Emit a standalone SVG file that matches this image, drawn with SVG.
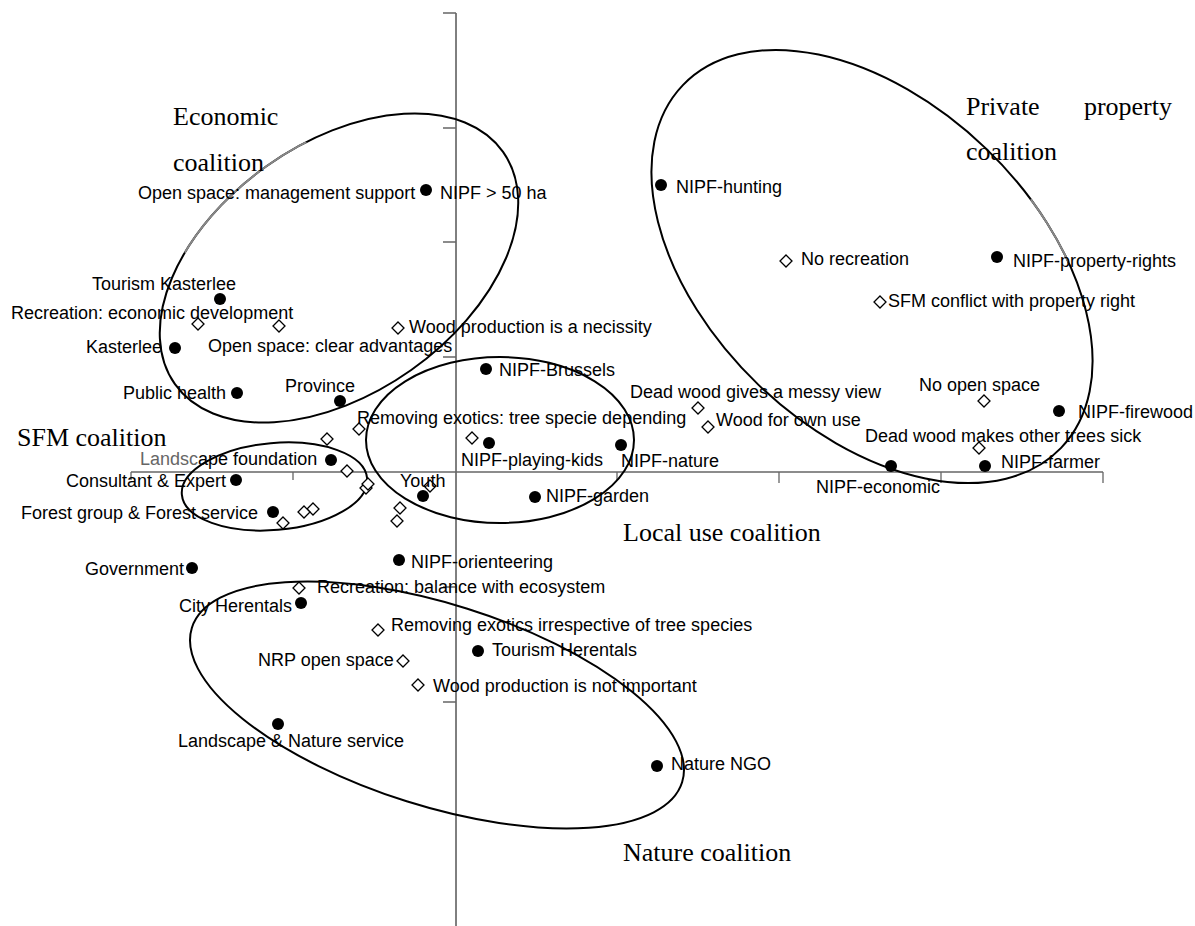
<svg xmlns="http://www.w3.org/2000/svg" xmlns:xlink="http://www.w3.org/1999/xlink" width="1195" height="926" viewBox="0 0 1195 926">
<style>
.lbl{font-family:"Liberation Sans",Arial,sans-serif;font-size:18px;fill:#000}
.ttl{font-family:"Liberation Serif","Times New Roman",serif;font-size:26px;fill:#000}
.ell{fill:none;stroke:#000;stroke-width:2}
.gry{fill:none;stroke:#888;stroke-width:2}
.dia{fill:#fff;stroke:#000;stroke-width:1.3}
.dot{fill:#000}
.ax{stroke:#000;stroke-width:1;fill:none}
.axh{stroke:#666;stroke-width:1.3;fill:none}
</style>
<defs>
<circle id="dot" r="6" class="dot"/>
<path id="dia" class="dia" d="M0,-6 L6,0 L0,6 L-6,0Z"/>
<clipPath id="cEco"><rect x="222" y="100" width="163" height="110"/></clipPath>
<clipPath id="cPriv"><rect x="940" y="105" width="72" height="78"/></clipPath>
<clipPath id="cNat"><rect x="598" y="820" width="22" height="16"/></clipPath>
</defs>
<rect width="1195" height="926" fill="#fff"/>

<g id="axes">
<line class="ax" x1="456" y1="13" x2="456" y2="926"/>
<line class="axh" x1="131" y1="472" x2="1103" y2="472"/>
<path class="axh" d="M443,13H456M443,128H456M443,242H456M443,357H456M443,587H456M443,702H456"/>
<path class="axh" d="M131,472V480M293,472V480M617,472V480M779,472V483M941,472V483M1103,472V483"/>
</g>

<g id="coalitions">
<g id="economic-coalition">
<ellipse class="ell" cx="339" cy="268" rx="201" ry="125" transform="rotate(-35.3 339 268)"/>
<ellipse class="gry" clip-path="url(#cEco)" cx="339" cy="268" rx="201" ry="125" transform="rotate(-35.3 339 268)"/>
<text class="ttl" x="173" y="125">Economic</text>
<text class="ttl" x="173" y="171">coalition</text>
</g>
<g id="private-property-coalition">
<ellipse class="ell" cx="872" cy="266.5" rx="262" ry="164" transform="rotate(43.8 872 266.5)"/>
<ellipse class="gry" clip-path="url(#cPriv)" cx="872" cy="266.5" rx="262" ry="164" transform="rotate(43.8 872 266.5)"/>
<text class="ttl" x="966" y="115">Private</text>
<text class="ttl" x="1172" y="115" text-anchor="end">property</text>
<text class="ttl" x="966" y="160">coalition</text>
</g>
<g id="local-use-coalition">
<ellipse class="ell" cx="500" cy="440" rx="134" ry="83"/>
<text class="ttl" x="623" y="541">Local use coalition</text>
</g>
<g id="sfm-coalition">
<ellipse class="ell" cx="274.5" cy="486.5" rx="93" ry="43.5" transform="rotate(-5 274.5 486.5)"/>
<text class="ttl" x="17" y="446">SFM coalition</text>
</g>
<g id="nature-coalition">
<ellipse class="ell" cx="437" cy="705" rx="257" ry="101" transform="rotate(17.5 437 705)"/>
<ellipse class="gry" clip-path="url(#cNat)" cx="437" cy="705" rx="257" ry="101" transform="rotate(17.5 437 705)"/>
<text class="ttl" x="623" y="861">Nature coalition</text>
</g>
</g>

<g id="connectors"></g>

<g id="statements">
<g id="s-open-space-management"><text class="lbl" x="138" y="199">Open space: management support</text></g>
<g id="s-recreation-economic"><use href="#dia" x="198" y="324"/><text class="lbl" x="11" y="319">Recreation: economic development</text></g>
<g id="s-open-space-clear"><use href="#dia" x="279" y="326"/><text class="lbl" x="208" y="352">Open space: clear advantages</text></g>
<g id="s-wood-necessity"><use href="#dia" x="398" y="328"/><text class="lbl" x="409" y="333">Wood production is a necissity</text></g>
<g id="s-removing-exotics-depending"><use href="#dia" x="472" y="438"/><text class="lbl" x="357" y="424">Removing exotics: tree specie depending</text></g>
<g id="s-unlabeled">
<use href="#dia" x="327" y="439"/>
<use href="#dia" x="359" y="429"/>
<use href="#dia" x="347" y="471"/>
<use href="#dia" x="366" y="488"/>
<use href="#dia" x="368" y="484"/>
<use href="#dia" x="313" y="509"/>
<use href="#dia" x="304" y="512"/>
<use href="#dia" x="283" y="523"/>
<use href="#dia" x="400" y="508"/>
<use href="#dia" x="397" y="521"/>
<use href="#dia" x="430" y="486"/>
</g>
<g id="s-dead-wood-messy"><use href="#dia" x="698" y="408"/><text class="lbl" x="630" y="398">Dead wood gives a messy view</text></g>
<g id="s-wood-own-use"><use href="#dia" x="708" y="427"/><text class="lbl" x="716" y="426">Wood for own use</text></g>
<g id="s-no-open-space"><use href="#dia" x="984" y="401"/><text class="lbl" x="919" y="391">No open space</text></g>
<g id="s-dead-wood-sick"><use href="#dia" x="979" y="448"/><text class="lbl" x="865" y="442">Dead wood makes other trees sick</text></g>
<g id="s-no-recreation"><use href="#dia" x="786" y="261"/><text class="lbl" x="801" y="265">No recreation</text></g>
<g id="s-sfm-conflict"><use href="#dia" x="880" y="302"/><text class="lbl" x="888" y="307">SFM conflict with property right</text></g>
<g id="s-recreation-balance"><use href="#dia" x="299" y="588"/><text class="lbl" x="317" y="593">Recreation: balance with ecosystem</text></g>
<g id="s-removing-exotics-irrespective"><use href="#dia" x="378" y="630"/><text class="lbl" x="391" y="631">Removing exotics irrespective of tree species</text></g>
<g id="s-nrp-open-space"><use href="#dia" x="403" y="661"/><text class="lbl" x="258" y="666">NRP open space</text></g>
<g id="s-wood-not-important"><use href="#dia" x="418" y="685"/><text class="lbl" x="433" y="692">Wood production is not important</text></g>
</g>

<g id="actors">
<g id="a-nipf-50ha"><use href="#dot" x="426" y="190"/><text class="lbl" x="440" y="199">NIPF &gt; 50 ha</text></g>
<g id="a-tourism-kasterlee"><use href="#dot" x="220" y="299"/><text class="lbl" x="92" y="290">Tourism Kasterlee</text></g>
<g id="a-kasterlee"><use href="#dot" x="175" y="348"/><text class="lbl" x="86" y="353">Kasterlee</text></g>
<g id="a-public-health"><use href="#dot" x="237" y="393"/><text class="lbl" x="123" y="399">Public health</text></g>
<g id="a-province"><use href="#dot" x="340" y="401"/><text class="lbl" x="285" y="392">Province</text></g>
<g id="a-landscape-foundation"><use href="#dot" x="331" y="460"/><text class="lbl" x="140" y="465"><tspan fill="#666">Landsc</tspan>ape foundation</text></g>
<g id="a-consultant"><use href="#dot" x="236" y="480"/><text class="lbl" x="66" y="487">Consultant &amp; Expert</text></g>
<g id="a-forest-group"><use href="#dot" x="273" y="512"/><text class="lbl" x="21" y="519">Forest group &amp; Forest service</text></g>
<g id="a-youth"><use href="#dot" x="423" y="496"/><text class="lbl" x="400" y="487">Youth</text></g>
<g id="a-nipf-brussels"><use href="#dot" x="486" y="369"/><text class="lbl" x="499" y="376">NIPF-Brussels</text></g>
<g id="a-nipf-playing-kids"><use href="#dot" x="489" y="443"/><text class="lbl" x="461" y="466">NIPF-playing-kids</text></g>
<g id="a-nipf-nature"><use href="#dot" x="621" y="445"/><text class="lbl" x="621" y="467">NIPF-nature</text></g>
<g id="a-nipf-garden"><use href="#dot" x="535" y="497"/><text class="lbl" x="546" y="502">NIPF-garden</text></g>
<g id="a-nipf-orienteering"><use href="#dot" x="399" y="560"/><text class="lbl" x="411" y="568">NIPF-orienteering</text></g>
<g id="a-government"><use href="#dot" x="192" y="568"/><text class="lbl" x="184" y="575" text-anchor="end">Government</text></g>
<g id="a-city-herentals"><use href="#dot" x="301" y="603"/><text class="lbl" x="179" y="612">City Herentals</text></g>
<g id="a-tourism-herentals"><use href="#dot" x="478" y="651"/><text class="lbl" x="492" y="656">Tourism Herentals</text></g>
<g id="a-landscape-nature-service"><use href="#dot" x="278" y="724"/><text class="lbl" x="178" y="747">Landscape &amp; Nature service</text></g>
<g id="a-nature-ngo"><use href="#dot" x="657" y="766"/><text class="lbl" x="671" y="770">Nature NGO</text></g>
<g id="a-nipf-hunting"><use href="#dot" x="661" y="185"/><text class="lbl" x="676" y="193">NIPF-hunting</text></g>
<g id="a-nipf-property-rights"><use href="#dot" x="997" y="257"/><text class="lbl" x="1013" y="267">NIPF-property-rights</text></g>
<g id="a-nipf-firewood"><use href="#dot" x="1059" y="411"/><text class="lbl" x="1078" y="418">NIPF-firewood</text></g>
<g id="a-nipf-economic"><use href="#dot" x="891" y="466"/><text class="lbl" x="816" y="493">NIPF-economic</text></g>
<g id="a-nipf-farmer"><use href="#dot" x="985" y="466"/><text class="lbl" x="1001" y="468">NIPF-farmer</text></g>
</g>
</svg>
